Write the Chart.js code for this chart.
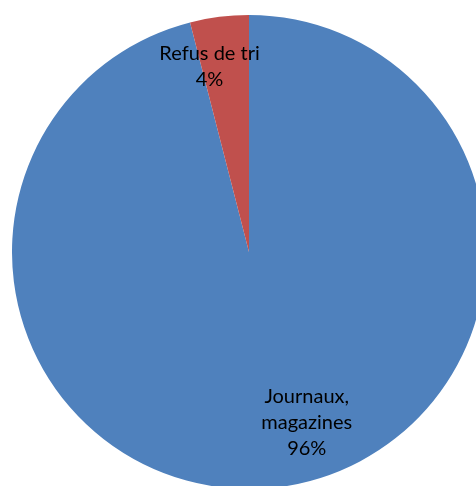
<!DOCTYPE html>
<html>
<head>
<meta charset="utf-8">
<script src="https://cdn.jsdelivr.net/npm/chart.js@4/dist/chart.umd.min.js"></script>
<style>
  html, body { margin: 0; padding: 0; background: #fff; overflow: hidden; width: 476px; height: 486px; }
  #wrap { position: absolute; left: 12px; top: 15px; width: 474px; height: 474px; }
</style>
</head>
<body>
<div id="wrap"><canvas id="pieChart" width="474" height="474"></canvas></div>
<script>
// Données du graphique
const categories = ['Journaux, magazines', 'Refus de tri'];
const values = [96, 4];
const labelLines = [['Journaux,', 'magazines', '96%'], ['Refus de tri', '4%']];
const colors = ['#4F81BD', '#C0504D'];

// placement des étiquettes (angle depuis le haut en degrés, rayon relatif)
const labelPlacement = [
    { angle: 161.3, r: 0.76 },
    { angle: -12, r: 0.80 }
];

const pieLabels = {
    id: 'pieLabels',
    afterDatasetsDraw(chart) {
        const ctx = chart.ctx;
        const arc = chart.getDatasetMeta(0).data[0];
        if (!arc) return;
        const cx = arc.x, cy = arc.y, R = arc.outerRadius;
        const lineH = 26;
        ctx.save();
        ctx.fillStyle = '#000';
        ctx.font = '20px Lato, "Open Sans", sans-serif';
        ctx.textAlign = 'center';
        ctx.textBaseline = 'middle';
        labelLines.forEach((lines, i) => {
            const p = labelPlacement[i];
            const a = p.angle * Math.PI / 180;
            const x = cx + Math.sin(a) * R * p.r;
            const y = cy - Math.cos(a) * R * p.r;
            const top = y - (lines.length - 1) * lineH / 2;
            lines.forEach((t, j) => ctx.fillText(t, x, top + j * lineH));
        });
        ctx.restore();
    }
};

new Chart(document.getElementById('pieChart').getContext('2d'), {
    type: 'pie',
    data: {
        labels: categories,
        datasets: [{
            data: values,
            backgroundColor: colors,
            borderWidth: 0,
            hoverOffset: 0,
            offset: 0
        }]
    },
    options: {
        responsive: false,
        animation: false,
        layout: { padding: 0 },
        plugins: {
            legend: { display: false },
            tooltip: { enabled: false }
        }
    },
    plugins: [pieLabels]
});
</script>
</body>
</html>
